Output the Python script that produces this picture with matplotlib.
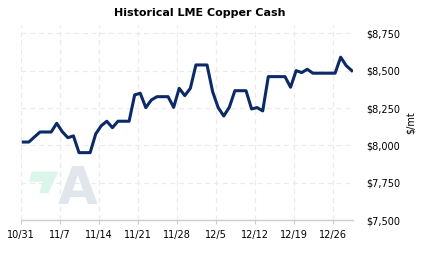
import matplotlib
matplotlib.use("Agg")
import matplotlib.pyplot as plt
import matplotlib.dates as mdates
from matplotlib.patches import Polygon
import pandas as pd

# daily LME copper cash, weekends carry the Friday price
start = "2023-10-31 10:00"
prices = [
    8023, 8023, 8057, 8090, 8090, 8090, 8148, 8092, 8052, 8064,
    7952, 7952, 7952, 8077, 8132, 8162, 8119, 8162, 8162, 8162,
    8338, 8349, 8253, 8304, 8326, 8326, 8326, 8255, 8382, 8333,
    8382, 8538, 8538, 8538, 8360, 8253, 8197, 8255, 8366, 8366,
    8366, 8244, 8253, 8231, 8460, 8460, 8460, 8460, 8389, 8500,
    8487, 8509, 8483, 8483, 8483, 8483, 8483, 8590, 8533, 8500,
]
dates = pd.date_range(start, periods=len(prices), freq="D")
tick_dates = pd.date_range("2023-10-31", "2023-12-26", freq="7D")
y_ticks = [7500, 7750, 8000, 8250, 8500, 8750]

W, H = 423, 257
fig = plt.figure(figsize=(W / 100, H / 100), dpi=100)
ax = fig.add_axes([21 / W, 1 - 220.3 / H, (352.5 - 21) / W, (220.3 - 25) / H])

ax.plot(dates, prices, color="#0b2a66", lw=2.2, solid_joinstyle="round", zorder=3)

ax.set_xlim(pd.Timestamp("2023-10-31"), pd.Timestamp("2023-12-29 13:00"))
ax.set_ylim(7500, 8805)

ax.set_xticks(tick_dates)
ax.xaxis.set_major_formatter(mdates.DateFormatter("%-m/%-d"))
ax.set_yticks(y_ticks)
ax.set_yticklabels([r"\$" + f"{v:,}" for v in y_ticks])

ax.yaxis.tick_right()
ax.tick_params(axis="y", length=0, pad=10, labelsize=7, colors="black")
ax.tick_params(axis="x", length=3, width=0.8, color="#cccccc", pad=4, labelsize=7)

for s in ["top", "left", "right"]:
    ax.spines[s].set_visible(False)
ax.spines["bottom"].set_color("#cccccc")
ax.spines["bottom"].set_linewidth(1)

ax.grid(True, color="#ebebeb", linestyle=(0, (4, 3)), linewidth=0.9)
ax.set_axisbelow(True)
# hide gridline at 7500 (the axis line is there)
ax.get_ygridlines()[0].set_visible(False)

fig.text(200 / W, 1 - 13 / H, "Historical LME Copper Cash", ha="center", va="center",
         fontsize=8, fontweight="bold")
fig.text(411 / W, 1 - 123 / H, r"\$/mt", rotation=90, ha="center", va="center", fontsize=7)

# watermark logo
pts = [(31.7, 171.7), (58.3, 171.7), (48.3, 193.3), (39.3, 193.3), (42.7, 181.7), (29.3, 181.7)]
fig.patches.append(Polygon([(x / W, 1 - y / H) for x, y in pts], closed=True,
                           transform=fig.transFigure, facecolor="#daf5ea", edgecolor="none", zorder=1))
fig.text(78 / W, 1 - 190 / H, "A", ha="center", va="center", fontsize=37,
         fontweight="bold", color="#e1e5ec", zorder=1)

fig.savefig("out.png", dpi=100)
